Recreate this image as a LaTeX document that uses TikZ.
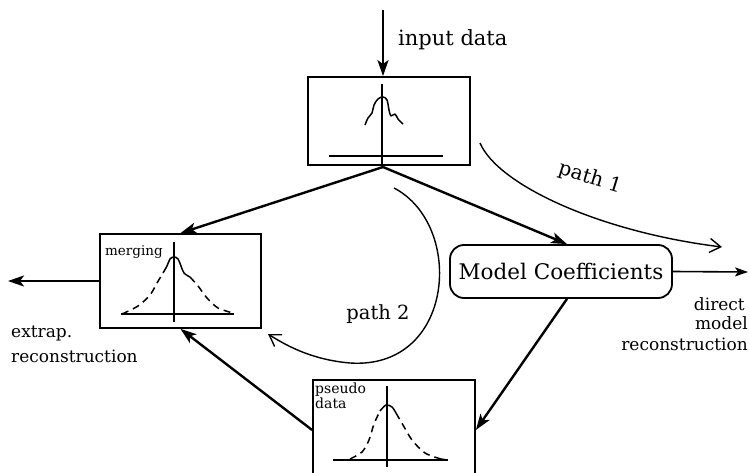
\documentclass[tikz,border=0pt]{standalone}
\usepackage{fontspec}
\setmainfont{DejaVu Serif}
\usetikzlibrary{arrows.meta}
\begin{document}
\begin{tikzpicture}[x=1pt,y=-1pt,
  box/.style={draw,line width=1.8pt,inner sep=0pt},
  conn/.style={line width=2.4pt,-{Stealth[length=16pt,width=11pt,inset=4pt]}},
  pathline/.style={line width=1.4pt,-{Straight Barb[length=11pt,width=14pt,line width=1.4pt]}},
  axis/.style={line width=1.1pt},
  curve/.style={line width=1.5pt},
  dcurve/.style={line width=1.5pt,dash pattern=on 7pt off 5pt},
  lbl/.style={inner sep=0pt},
]
\clip (0,0) rectangle (750,473);
\path[use as bounding box] (0,0) rectangle (750,473);

% boxes
\node[box,minimum width=162pt,minimum height=88pt] (inp) at (389,121) {};
\node[box,minimum width=161pt,minimum height=94pt] (merge) at (180.5,281) {};
\node[box,minimum width=162pt,minimum height=100pt] (pseudo) at (394,430) {};
\node[box,rounded corners=14pt,minimum width=222pt,minimum height=53pt,
      font=\fontsize{21.5}{24}\selectfont] (mc) at (561,271.5) {Model Coefficients};

% coordinates
\coordinate (src) at (383,10);
\coordinate (split) at (383,167);
\coordinate (outL) at (8,281);
\coordinate (outR) at (748,272);
\coordinate (p1a) at (480,143);
\coordinate (p1b) at (722,247);
\coordinate (p2a) at (394,188);
\coordinate (p2b) at (268,334);

% labels
\node[lbl,anchor=base west,font=\fontsize{21}{24}\selectfont] (tin) at (398,46) {input data};
\node[lbl,anchor=base west,font=\fontsize{13.5}{16}\selectfont] (tmerg) at (105,255) {merging};
\node[lbl,anchor=base west,font=\fontsize{14}{16}\selectfont] (tpseudo) at (315,393) {pseudo};
\node[lbl,anchor=base west,font=\fontsize{14}{16}\selectfont] (tpdata) at (315,408) {data};
\node[lbl,anchor=base west,font=\fontsize{17}{20}\selectfont] (textrap) at (11,337) {extrap.};
\node[lbl,anchor=base west,font=\fontsize{17}{20}\selectfont] (trecon) at (11,362) {reconstruction};
\node[lbl,anchor=base east,font=\fontsize{17}{20}\selectfont] (tdirect) at (745,310) {direct};
\node[lbl,anchor=base east,font=\fontsize{17}{20}\selectfont] (tmodel) at (748,330) {model};
\node[lbl,anchor=base east,font=\fontsize{17}{20}\selectfont] (trecon2) at (748,350) {reconstruction};
\node[lbl,rotate=-17,font=\fontsize{20}{23}\selectfont] (tp1) at (590,178) {path 1};
\node[lbl,font=\fontsize{19.5}{22}\selectfont] (tp2) at (378,314) {path 2};

% main connectors
\draw[conn] (src) -- (inp.north -| src);
\draw[conn] (split) -- (merge.north);
\draw[conn] (split) -- ([xshift=6pt]mc.north);
\draw[conn] ([xshift=6pt]mc.south) -- (pseudo.east);
\draw[conn] (pseudo.west) -- (merge.south);
\draw[conn] (merge.west) -- (outL);
\draw[line width=1.6pt,-{Stealth[length=13pt,width=9pt,inset=3pt]}] (mc.east) -- (outR);

% path curves
\draw[pathline] (p1a) .. controls (498,185) and (600,232) .. (p1b);
\draw[pathline] (p2a) .. controls (465,225) and (455,370) .. (350,363)
                      .. controls (315,360) and (290,348) .. (p2b);

% top box graph
\draw[axis] (382,84) -- (382,165);
\draw[axis] (329,156) -- (443,156);
\draw[curve,line join=round] plot[smooth,tension=0.6] coordinates
  {(365,125) (368,118) (372,113) (374,105) (378,99) (383,97) (387,100) (389,110) (391,116) (395,114) (398,119) (403,124)};

% merging graph
\draw[axis] (174,242) -- (174,322);
\draw[axis] (121,314) -- (234,314);
\draw[dcurve] plot[smooth] coordinates {(122,314) (138,306) (150,295) (157,283) (163,273)};
\draw[curve] plot[smooth,tension=0.6] coordinates {(163,273) (167,266) (170,259) (174,257) (178,259) (181,266) (184,273) (190,277)};
\draw[dcurve] plot[smooth] coordinates {(190,277) (198,286) (207,298) (218,308) (233,313)};

% pseudo data graph
\draw[axis] (387,386) -- (387,467);
\draw[axis] (333,460) -- (448,460);
\draw[dcurve] plot[smooth] coordinates {(350,459) (362,452) (369,440) (374,424) (380,411)};
\draw[curve] plot[smooth] coordinates {(380,411) (386,405) (392,407) (396,413)};
\draw[dcurve] plot[smooth] coordinates {(396,413) (403,425) (412,440) (425,453) (441,459)};
\draw[curve] (441,459) -- (447,460);
\end{tikzpicture}
\end{document}
